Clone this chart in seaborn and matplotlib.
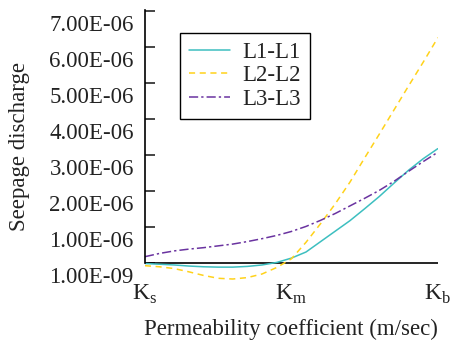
import numpy as np
import pandas as pd
import matplotlib
matplotlib.use("Agg")
import matplotlib.pyplot as plt
import matplotlib.transforms as mtransforms
import seaborn as sns

# permeability positions: Ks=0, Km=1, Kb=2
k_pos = [0.0, 0.1, 0.2, 0.3, 0.4, 0.5, 0.6, 0.7, 0.8, 0.9, 1.0,
         1.1, 1.2, 1.3, 1.4, 1.5, 1.6, 1.7, 1.8, 1.9, 2.0]
# seepage discharge (x 1e-6)
l1 = [-0.01, -0.03, -0.05, -0.08, -0.10, -0.11, -0.11, -0.09, -0.05, 0.02, 0.14,
      0.31, 0.60, 0.89, 1.18, 1.51, 1.85, 2.22, 2.58, 2.90, 3.18]
l2 = [-0.07, -0.10, -0.15, -0.24, -0.34, -0.42, -0.44, -0.40, -0.30, -0.12, 0.12,
      0.58, 1.10, 1.65, 2.25, 2.92, 3.58, 4.25, 4.92, 5.58, 6.26]
l3 = [0.18, 0.27, 0.34, 0.39, 0.43, 0.48, 0.53, 0.60, 0.68, 0.77, 0.88,
      1.02, 1.19, 1.38, 1.59, 1.80, 2.02, 2.27, 2.55, 2.82, 3.08]

series_names = ["L1-L1", "L2-L2", "L3-L3"]
y_ticks = [0, 1e-6, 2e-6, 3e-6, 4e-6, 5e-6, 6e-6, 7e-6]
y_tick_labels = ["1.00E-09", "1.00E-06", "2.00E-06", "3.00E-06",
                 "4.00E-06", "5.00E-06", "6.00E-06", "7.00E-06"]
x_ticks = [0, 1, 2]
x_tick_labels = [r"K$_\mathrm{s}$", r"K$_\mathrm{m}$", r"K$_\mathrm{b}$"]

rows = []
for name, vals in zip(series_names, [l1, l2, l3]):
    for k, v in zip(k_pos, vals):
        rows.append({"k": k, "q": v * 1e-6, "line": name})
df = pd.DataFrame(rows)

sns.set_style("ticks")
plt.rcParams["font.family"] = ["Liberation Serif", "DejaVu Serif"]
plt.rcParams["mathtext.fontset"] = "custom"
plt.rcParams["mathtext.rm"] = "Liberation Serif"

fig = plt.figure(figsize=(4.5, 3.43), dpi=100)
ax = fig.add_axes([0.322, 0.175, 0.651, 0.796])

palette = {"L1-L1": "#3dbfc0", "L2-L2": "#ffd21a", "L3-L3": "#6a33a0"}
dashes = {"L1-L1": "", "L2-L2": (4, 3), "L3-L3": (6, 2, 1.5, 2)}
sns.lineplot(data=df, x="k", y="q", hue="line", style="line",
             palette=palette, dashes=dashes, linewidth=1.1, ax=ax)

ax.axhline(0, color="black", linewidth=1.2, zorder=1)
ax.set_xlim(0, 2)
ax.set_ylim(-0.55e-6, 7.03e-6)

ax.set_yticks(y_ticks)
ax.set_yticklabels(y_tick_labels, fontsize=16.5, color="#222222")
ax.set_xticks(x_ticks)
ax.set_xticklabels(x_tick_labels, fontsize=17, color="#222222")
ax.tick_params(axis="y", direction="in", length=7, width=1.2, pad=8)
ax.tick_params(axis="x", length=0, pad=0)

# labels sit a little below their ticks in the original
offset = mtransforms.ScaledTranslation(0, -0.12, fig.dpi_scale_trans)
for lab in ax.get_yticklabels():
    lab.set_transform(lab.get_transform() + offset)

sns.despine(ax=ax, top=True, right=True, bottom=True)
ax.spines["left"].set_bounds(0, 7.03e-6)
ax.spines["left"].set_linewidth(1.2)
ax.spines["left"].set_color("black")

ax.set_xlabel("Permeability coefficient (m/sec)", fontsize=16.5, color="#222222", labelpad=9)
ax.set_ylabel("Seepage discharge", fontsize=16.5, color="#222222", labelpad=14)

leg = ax.legend(loc="upper left", bbox_to_anchor=(0.119, 0.916), borderaxespad=0,
                fontsize=16.5, frameon=True, fancybox=False, edgecolor="black",
                framealpha=1, handlelength=1.8, labelspacing=0.1,
                borderpad=0.4, handletextpad=0.55, title=None)
leg.get_frame().set_linewidth(1.0)
for t in leg.get_texts():
    t.set_color("#222222")

fig.savefig("out.png", dpi=100)
